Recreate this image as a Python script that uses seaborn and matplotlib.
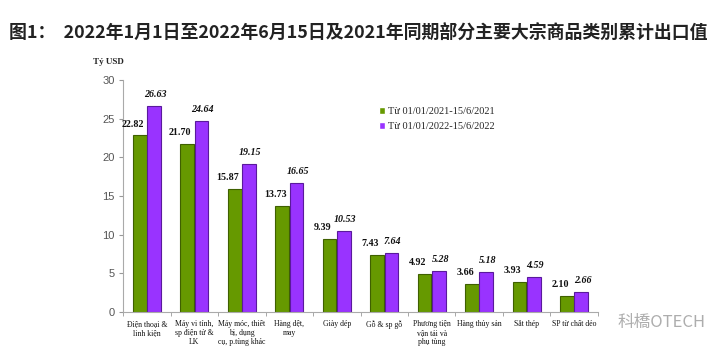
import matplotlib
matplotlib.use("Agg")
import matplotlib.pyplot as plt
import seaborn as sns
import pandas as pd
import numpy as np

categories = ["Điện thoại &\nlinh kiện", "Máy vi tính,\nsp điện tử &\nLK",
              "Máy móc, thiết\nbị, dụng\ncụ, p.tùng khác", "Hàng dệt,\nmay",
              "Giày dép", "Gỗ & sp gỗ", "Phương tiện\nvận tải và\nphụ tùng",
              "Hàng thủy sản", "Sắt thép", "SP từ chất dẻo"]
series_names = ["Từ 01/01/2021-15/6/2021", "Từ 01/01/2022-15/6/2022"]
values_2021 = [22.82, 21.70, 15.87, 13.73, 9.39, 7.43, 4.92, 3.66, 3.93, 2.10]
values_2022 = [26.63, 24.64, 19.15, 16.65, 10.53, 7.64, 5.28, 5.18, 4.59, 2.66]
yticks = [0, 5, 10, 15, 20, 25, 30]
title = "图1：  2022年1月1日至2022年6月15日及2021年同期部分主要大宗商品类别累计出口值"

sns.set_style("white")
plt.rcParams['font.family'] = ['Liberation Serif', 'DejaVu Serif']

df = pd.DataFrame({
    "cat": categories * 2,
    "series": [series_names[0]] * len(categories) + [series_names[1]] * len(categories),
    "value": values_2021 + values_2022,
})

fig = plt.figure(figsize=(7.16, 3.6), dpi=100)
ax = fig.add_axes([0.172, 0.133, 0.663, 0.645])
colors = ["#669900", "#9933ff"]
edges = ["#3f6000", "#5a1a9c"]
sns.barplot(data=df, x="cat", y="value", hue="series", palette=colors,
            width=0.6, gap=0.04, ax=ax, saturation=1, legend=True)

for i, cont in enumerate(ax.containers):
    for bar in cont:
        bar.set_edgecolor(edges[i])
        bar.set_linewidth(0.8)
        x = bar.get_x() + bar.get_width() / 2
        h = bar.get_height()
        if i == 0:
            ax.annotate(f"{h:.2f}", (x, h), xytext=(-5, 5), textcoords="offset points",
                        ha="center", va="bottom", fontsize=7.2, fontweight="bold", color="#111111")
        else:
            ax.annotate(f"{h:.2f}", (x, h), xytext=(1, 5), textcoords="offset points",
                        ha="center", va="bottom", fontsize=7.2, fontweight="bold",
                        fontstyle="italic", color="#111111")

ax.set_ylim(0, 30)
ax.set_xlim(-0.5, len(categories) - 0.5)
ax.set_yticks(yticks)
ax.set_yticklabels([str(t) for t in yticks], fontsize=8, color="#555555",
                   family=['Liberation Sans', 'DejaVu Sans'])
ax.set_xticks(range(len(categories)))
ax.set_xticklabels(categories, fontsize=5.6, color="#111111", linespacing=1.15)
ax.set_xticks(np.arange(-0.5, len(categories), 1.0), minor=True)
ax.tick_params(axis="x", which="major", length=0, pad=6)
ax.tick_params(axis="x", which="minor", length=3, color="#999999", direction="out", bottom=True)
ax.tick_params(axis="y", length=3, color="#999999", direction="out", left=True, pad=3)
ax.set_xlabel("")
ax.set_ylabel("")
for s in ["top", "right"]:
    ax.spines[s].set_visible(False)
for s in ["left", "bottom"]:
    ax.spines[s].set_color("#aaaaaa")
    ax.spines[s].set_linewidth(0.8)

ax.text(-0.03, 1.06, "Tỷ USD", transform=ax.transAxes, fontsize=6.5,
        fontweight="bold", ha="center", va="bottom")

leg = ax.legend(loc="upper left", bbox_to_anchor=(0.53, 0.9), frameon=False,
                fontsize=7.5, handlelength=0.6, handleheight=0.6, handletextpad=0.3,
                labelspacing=0.55, borderaxespad=0)

fig.text(0.012, 0.91, title, fontsize=12.9, fontweight="bold", color="#222222",
         family=['Noto Sans CJK SC', 'DejaVu Sans'], ha="left", va="center")

fig.text(0.985, 0.105, "科橋OTECH", fontsize=12, color="#999999", alpha=0.8,
         family=['Noto Sans CJK SC', 'DejaVu Sans'], ha="right", va="center")

fig.savefig("out.png", dpi=100)
